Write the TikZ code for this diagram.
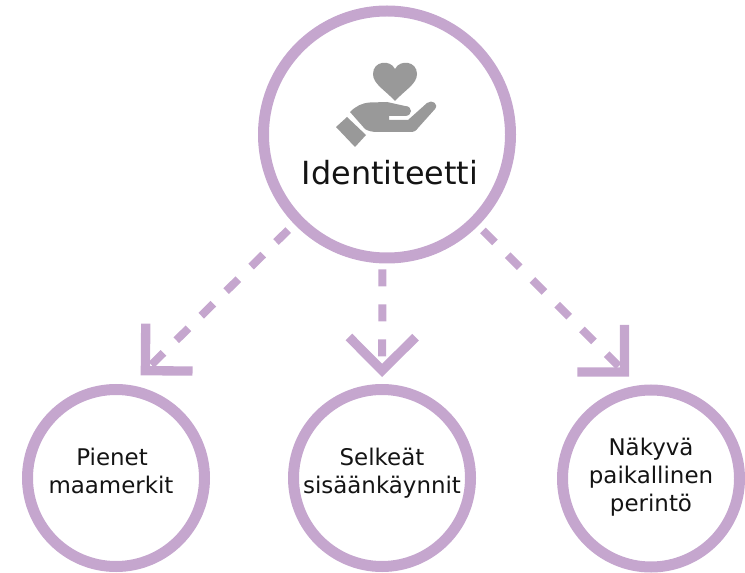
\documentclass[tikz,border=0pt]{standalone}
\usepackage{fontspec}
\setmainfont{DejaVu Sans}
\usetikzlibrary{arrows.meta}
\definecolor{lilac}{HTML}{C5A6CE}
\definecolor{icongray}{HTML}{999999}
\definecolor{ink}{HTML}{141414}
\tikzset{
  bigring/.style={circle,draw=lilac,line width=8.25pt,minimum size=185.25pt,inner sep=0pt},
  ring/.style={circle,draw=lilac,line width=8.25pt,minimum size=132.75pt,inner sep=0pt},
  link/.style={draw=lilac,line width=6pt,dash pattern=on 12.75pt off 13.5pt,
    -{Straight Barb[length=25pt,width=50pt,line width=7pt]}},
  title/.style={font=\fontsize{23.9pt}{26pt}\selectfont,text=ink,anchor=base,inner sep=0pt},
  label/.style={font=\fontsize{17.2pt}{21pt}\selectfont,text=ink,anchor=base,inner sep=0pt},
  icon/.style={fill=icongray,draw=none}
}
\begin{document}
\begin{tikzpicture}[x=0.75pt,y=-0.75pt]
\useasboundingbox (0,0) rectangle (745,573);
\node[bigring] (big) at (387,134.5) {};
\node[ring] (left) at (116,478) {};
\node[ring] (mid) at (382,478) {};
\node[ring] (right) at (651,478.5) {};
% icon
\fill[icon] (395,101) .. controls (385,90) and (373,84) .. (373,74)
  .. controls (373,61) and (390,59) .. (395,69)
  .. controls (400,59) and (417,61) .. (417,74)
  .. controls (417,84) and (405,90) .. (395,101) -- cycle;
\fill[icon] (350,112) .. controls (356,106) and (362,103) .. (370,102.5)
  -- (387,102) -- (405,106) .. controls (413,106) and (413,116) .. (405,116)
  -- (389,116) -- (389,120) -- (408,120) -- (427,103)
  .. controls (432,99) and (439,104) .. (435,109)
  -- (418,128) .. controls (416,131) and (414,132) .. (410,132)
  -- (378,132) .. controls (372,132) and (368,131) .. (365,129) -- cycle;
\fill[icon] (347,117) -- (336,127) -- (355,147) -- (366,135) -- cycle;
% labels
\node[title] (t0) at (390,185) {Identiteetti};
\node[label] (t1) at (112,465) {Pienet};
\node[label] (t2) at (111,493) {maamerkit};
\node[label] (t3) at (382,465) {Selkeät};
\node[label] (t4) at (382,493) {sisäänkäynnit};
\node[label] (t5) at (651,455) {Näkyvä};
\node[label] (t6) at (651,483) {paikallinen};
\node[label] (t7) at (651,511) {perintö};
% connectors
\draw[link,shorten <=6.4pt,shorten >=10.5pt] (big.224) -- (left.81);
\draw[link,shorten <=4.5pt,shorten >=5.25pt] (big.268) -- (mid.90);
\draw[link,shorten <=5pt,shorten >=9.3pt] (big.315) -- (right.98.6);
\end{tikzpicture}
\end{document}
